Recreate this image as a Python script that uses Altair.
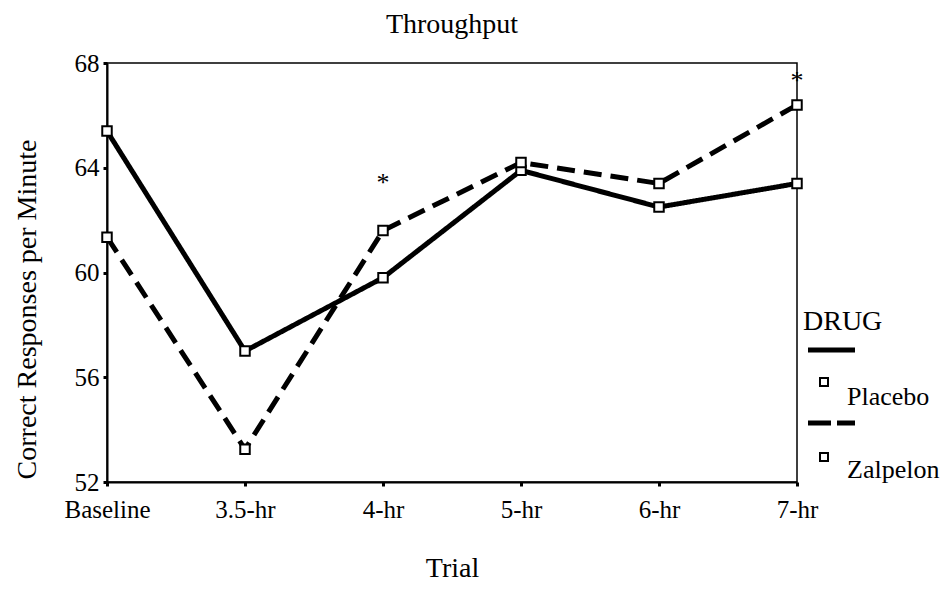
import altair as alt
import pandas as pd

# ---- data ----
trials = ["Baseline", "3.5-hr", "4-hr", "5-hr", "6-hr", "7-hr"]
placebo = [65.4, 57.0, 59.8, 63.9, 62.5, 63.4]
zalpelon = [61.35, 53.25, 61.6, 64.2, 63.4, 66.4]
drugs = ["Placebo", "Zalpelon"]
sig_trials = ["4-hr", "7-hr"]
sig_levels = [63.6, 67.5]
y_ticks = [52, 56, 60, 64, 68]
chart_title = "Throughput"

df = pd.DataFrame({
    "Trial": trials * 2,
    "DRUG": [drugs[0]] * len(trials) + [drugs[1]] * len(trials),
    "Value": placebo + zalpelon,
})
sig = pd.DataFrame({"Trial": sig_trials, "Value": sig_levels, "mark": ["*"] * len(sig_trials)})

FONT = "Liberation Serif"
W, H = 690, 419

x_enc = alt.X("Trial:N", sort=trials,
              scale=alt.Scale(type="point", padding=0, domain=trials),
              axis=alt.Axis(title="Trial", labelAngle=0, labelPadding=11,
                            titleBaseline="alphabetic", titleY=94, titleX=W / 2))
y_enc = alt.Y("Value:Q", scale=alt.Scale(domain=[52, 68], nice=False, zero=False),
              axis=alt.Axis(title="Correct Responses per Minute", values=y_ticks,
                            labelPadding=4, titleBaseline="alphabetic",
                            titleX=-72, titleY=246, titleAngle=270))
dash = alt.StrokeDash("DRUG:N", scale=alt.Scale(domain=drugs, range=[[1, 0], [18, 9]]), legend=None)

base = alt.Chart(df)
lines = base.mark_line(color="black", strokeWidth=5).encode(x=x_enc, y=y_enc, strokeDash=dash, detail="DRUG:N")
points = base.mark_point(shape="square", fill="white", stroke="black", strokeWidth=2,
                         size=90, opacity=1, fillOpacity=1).encode(x=x_enc, y=y_enc)
stars = alt.Chart(sig).mark_text(font=FONT, fontSize=26, color="black", baseline="alphabetic", dy=13).encode(
    x=alt.X("Trial:N", sort=trials), y="Value:Q", text="mark:N")

one = alt.Data(values=[{"k": 1}])
title_mark = alt.Chart(one).mark_text(font=FONT, fontSize=28, align="center", baseline="alphabetic",
                                      color="black").encode(x=alt.value(W / 2), y=alt.value(-30),
                                                            text=alt.value(chart_title))
leg_title = alt.Chart(one).mark_text(font=FONT, fontSize=28, align="left", baseline="alphabetic",
                                     color="black").encode(x=alt.value(696), y=alt.value(267), text=alt.value("DRUG"))
leg_solid = alt.Chart(one).mark_rule(color="black", strokeWidth=5).encode(
    x=alt.value(701), x2=alt.value(748), y=alt.value(287))
leg_dash = alt.Chart(one).mark_rule(color="black", strokeWidth=5, strokeDash=[23, 6]).encode(
    x=alt.value(701), x2=alt.value(748), y=alt.value(360))
leg_sq1 = alt.Chart(one).mark_point(shape="square", fill="white", stroke="black", strokeWidth=2,
                                    size=64, opacity=1).encode(x=alt.value(717), y=alt.value(319))
leg_sq2 = alt.Chart(one).mark_point(shape="square", fill="white", stroke="black", strokeWidth=2,
                                    size=64, opacity=1).encode(x=alt.value(717), y=alt.value(394))
leg_t1 = alt.Chart(one).mark_text(font=FONT, fontSize=26, align="left", baseline="alphabetic",
                                  color="black").encode(x=alt.value(740), y=alt.value(342), text=alt.value(drugs[0]))
leg_t2 = alt.Chart(one).mark_text(font=FONT, fontSize=26, align="left", baseline="alphabetic",
                                  color="black").encode(x=alt.value(740), y=alt.value(415), text=alt.value(drugs[1]))

chart = alt.layer(lines, points, stars, title_mark, leg_title, leg_solid, leg_dash,
                  leg_sq1, leg_sq2, leg_t1, leg_t2).properties(
    width=W, height=H,
    autosize=alt.AutoSizeParams(type="none"),
    padding={"left": 99, "top": 55, "right": 145, "bottom": 102},
    background="white",
).configure_view(stroke="black", strokeWidth=1.5).configure_axis(
    grid=False, domainColor="black", domainWidth=2, tickColor="black", tickSize=4, tickWidth=3,
    labelFont=FONT, labelFontSize=25, labelColor="black",
    titleFont=FONT, titleFontSize=28, titleFontWeight="normal", titleColor="black",
)

chart.save("out.html", embed_options={"renderer": "svg", "actions": False})
